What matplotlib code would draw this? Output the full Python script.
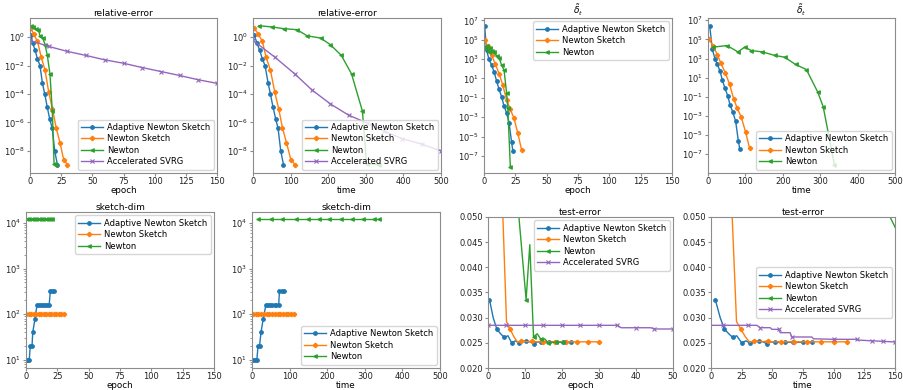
import matplotlib
matplotlib.use('Agg')
import matplotlib.pyplot as plt
from matplotlib.ticker import FixedLocator, NullLocator, LogFormatterMathtext

# ---------------- data ----------------
labels = ["Adaptive Newton Sketch", "Newton Sketch", "Newton", "Accelerated SVRG"]

# relative-error
re_ans_epoch = [0.5, 2.2, 4.1, 6, 8, 9.9, 11.8, 13.9, 15.8, 17.9, 19.8, 22]
re_ans_time = [2.7, 10.7, 17.8, 24.9, 32, 40, 46.3, 53.4, 60.5, 66.7, 73.8, 81]
re_ans_val = [1.45, 3.8e-1, 1.15e-1, 2.95e-2, 1.0e-2, 6.3e-4, 1.0e-4, 1.15e-5, 1.74e-6, 3.8e-7, 1.0e-8, 1.1e-9]

re_ns_epoch = [0.5, 3, 6, 9, 12, 15, 18, 21, 24, 27, 30]
re_ns_time = [2.7, 14.2, 24.9, 34.7, 46.3, 57.8, 68.5, 78.3, 89, 100.5, 111.2]
re_ns_val = [4.4, 1.6, 0.49, 3.9e-2, 4.9e-3, 1.4e-4, 8.7e-6, 4.2e-7, 3.9e-8, 2.5e-9, 1.1e-9]

re_n_epoch = [0.5, 2.7, 4.8, 6.7, 8, 10.2, 12.1, 13.9, 16, 17.9, 19.3, 20.9]
re_n_time = [16, 51.6, 82, 117, 144, 180, 206, 235, 262, 291, 302, 335]
re_n_val = [6.3, 5.1, 3.9, 3.3, 1.23, 0.85, 0.29, 5.1e-2, 2.6e-3, 6.3e-6, 1.25e-9, 1.1e-9]

re_svrg_epoch = [0, 15, 30, 45, 60, 75, 90, 105, 120, 135, 150]
re_svrg_epoch_val = [0.58, 0.22, 0.098, 0.051, 0.025, 0.0145, 0.0072, 0.0038, 0.002, 0.001, 0.00056]
re_svrg_time = [0, 58, 111, 157, 206, 254, 302, 349, 396, 449, 500]
re_svrg_time_val = [0.58, 0.039, 2.6e-3, 1.9e-4, 2.0e-5, 3.3e-6, 9.5e-7, 2.5e-7, 7.4e-8, 3.0e-8, 1.0e-8]

# delta tilde
dl_ans_epoch = [0.5, 2, 4, 6, 8, 10, 12, 14, 16, 18, 20, 22, 23]
dl_ans_time = [4.5, 11.6, 18.8, 25, 32, 38.4, 45.5, 52.7, 59, 66, 74, 81, 85]
dl_ans_val = [2.75e6, 8.9e3, 9.3e2, 2.5e2, 50, 5.8, 0.76, 0.13, 1.4e-2, 2.8e-3, 2.7e-4, 2.7e-6, 3.5e-7]

dl_ns_epoch = [0.5, 3, 6, 9, 12, 15, 18, 21, 24, 27, 30]
dl_ns_time = [2.7, 14.2, 24.9, 34.7, 46.3, 57.8, 68.5, 78.3, 89, 100.5, 111.2]
dl_ns_val = [1.0e5, 2.0e4, 2.5e3, 3.2e2, 32, 2.0, 6.3e-2, 6.3e-3, 7.4e-4, 2.1e-5, 4.3e-7]

dl_n_epoch = [0.5, 2, 4, 5, 6, 8, 10, 12, 14, 16, 18, 19, 21]
dl_n_time = [13, 51, 80, 98, 116, 145, 179, 205, 234, 263, 293, 308, 338]
dl_n_val = [1.55e4, 2.3e4, 5.0e3, 1.55e4, 6.9e3, 5.0e3, 2.1e3, 1.4e3, 2.4e2, 72, 0.34, 9.3e-3, 7.9e-9]

# sketch-dim
sd_ans_epoch = [0.8, 1.7, 2.6, 3.4, 4.8, 5.4, 7.2, 8.8, 10.4, 12, 13.6, 15.2, 16.8, 18.5, 19.4, 21, 22.5]
sd_ans_time = [3, 8, 13, 16, 20, 24, 30, 37, 43, 48, 54, 60, 65, 71, 73, 79, 85]
sd_ans_val = [10, 10, 10, 20, 20, 40, 80, 160, 160, 160, 160, 160, 160, 160, 320, 320, 320]

sd_ns_epoch = [0, 2, 4, 6, 8, 10, 12, 14, 16, 18, 20, 22, 24, 26, 28, 30]
sd_ns_time = [3, 10, 17, 25, 32, 39, 46, 54, 61, 68, 75, 83, 90, 97, 104, 112]
sd_ns_val = [100] * 16

sd_n_epoch = [0.5, 2.7, 4.8, 6.7, 8, 10.2, 12.1, 13.9, 16, 17.9, 19.3, 20.9]
sd_n_time = [15, 51, 80, 117, 148, 178, 206, 236, 266, 296, 325, 338]
sd_n_val = [12500] * 12

# test-error
te_ans_epoch = [0.4, 1.4, 2.4, 3.4, 4.4, 5.4, 6.4, 7.4, 8.4, 9.4, 10.4, 11.4, 12.4, 13.4,
                14.4, 15.4, 16.4, 17.4, 18.4, 19.4, 20.4, 21.4, 22.4]
te_ans_time = [3.5, 7.5, 11, 14.5, 17.6, 21, 25, 28.5, 32, 35.5, 39.3, 42.5, 45.6, 49,
               52.3, 56, 60.5, 64, 67, 71, 75.4, 79, 82.2]
te_ans_val = [0.0336, 0.0300, 0.0277, 0.0268, 0.0261, 0.0264, 0.0250, 0.0254, 0.0249, 0.0253,
              0.0253, 0.0252, 0.0248, 0.0252, 0.0251, 0.0251, 0.0251, 0.0251, 0.0251, 0.0251,
              0.0251, 0.0251, 0.0251]

te_ns_epoch = [0, 1, 2, 3, 4, 5, 6, 7, 8, 9, 10, 11, 12, 13, 14, 15, 16, 17, 18, 19, 20,
               21, 22, 23, 24, 25, 26, 27, 28, 29, 30]
te_ns_time = [2.7, 6.3, 9.9, 13.5, 17.2, 20.8, 24.4, 28.0, 31.6, 35.2, 38.9, 42.5, 46.1, 49.7,
              53.3, 56.9, 60.6, 64.2, 67.8, 71.4, 75.0, 78.6, 82.3, 85.9, 89.5, 93.1, 96.7,
              100.3, 104.0, 107.6, 111.2]
te_ns_val = [0.5, 0.3, 0.16, 0.085, 0.0505, 0.0292, 0.0277, 0.0262, 0.0251, 0.0254, 0.0253,
             0.0252, 0.0254, 0.0252, 0.0252, 0.0252, 0.0252, 0.0252, 0.0252, 0.0252, 0.0252,
             0.0252, 0.0252, 0.0252, 0.0252, 0.0252, 0.0252, 0.0252, 0.0252, 0.0252, 0.0252]

te_n_epoch = [0.3, 1.3, 2.3, 3.3, 4.3, 5.3, 6.3, 7.3, 8.3, 9.3, 10.3, 11.3, 12.3, 13.3,
              14.3, 15.3, 16.3, 17.3, 18.3, 19.3, 20.3]
te_n_time = [14, 32, 51, 66, 81, 99, 117, 131, 145, 162, 180, 193, 206, 220, 235, 249, 263,
             277, 292, 306, 320]
te_n_val = [0.5, 0.45, 0.3, 0.2, 0.15, 0.1, 0.08, 0.065, 0.0505, 0.042, 0.0336, 0.0445,
            0.0262, 0.0268, 0.0257, 0.0258, 0.0250, 0.0251, 0.0251, 0.0251, 0.0251]

te_svrg_epoch = [0, 5, 10, 15, 20, 25, 30, 35, 36, 40, 44, 45, 50]
te_svrg_epoch_val = [0.02848, 0.02848, 0.02848, 0.02848, 0.02848, 0.02848, 0.02848, 0.02848,
                     0.0280, 0.0280, 0.0280, 0.02775, 0.02775]
te_svrg_time = [0, 10, 20, 30, 37.4, 40.1, 48.3, 49.6, 55.6, 56.4, 64.5, 65.9, 82.2, 83.5,
                100, 118.8, 120, 131, 140, 150]
te_svrg_time_val = [0.02848, 0.02848, 0.02848, 0.02848, 0.02848, 0.02801, 0.02801, 0.02768,
                    0.02768, 0.02702, 0.02702, 0.02616, 0.02616, 0.0258, 0.0257, 0.0257,
                    0.02555, 0.0254, 0.0253, 0.02517]

# ---------------- style ----------------
FS_TICK = 6.0
FS_LAB = 6.3
FS_TITLE = 6.5
plt.rcParams.update({
    'font.family': ['DejaVu Sans'],
    'font.size': FS_TICK,
    'axes.edgecolor': '#8c8c8c',
    'axes.linewidth': 0.8,
    'xtick.color': '#8c8c8c',
    'ytick.color': '#8c8c8c',
    'xtick.labelcolor': '#222222',
    'ytick.labelcolor': '#222222',
    'xtick.labelsize': FS_TICK,
    'ytick.labelsize': FS_TICK,
    'xtick.major.size': 2.0,
    'ytick.major.size': 2.0,
    'ytick.minor.size': 1.2,
    'xtick.major.pad': 1.0,
    'ytick.major.pad': 1.5,
    'axes.titlepad': 1.5,
    'axes.labelpad': 0.0,
})

C = ['#1f77b4', '#ff7f0e', '#2ca02c', '#9467bd']
M = ['o', 'P', '<', 'x']
MS = [2.6, 3.0, 2.6, 3.0]

W, H = 904, 390
fig = plt.figure(figsize=(W / 100, H / 100), dpi=100)


def add_ax(x0, x1, y0, y1):
    return fig.add_axes([x0 / W, 1 - y1 / H, (x1 - x0) / W, (y1 - y0) / H])


def draw(ax, i, x, y, markevery=None):
    ax.plot(x, y, color=C[i], marker=M[i], ms=MS[i], lw=1.0, mew=0.8,
            label=labels[i], markevery=markevery)


def finish(ax, title, xlabel, xlim, xticks, legloc, bbox=None):
    ax.set_title(title, fontsize=FS_TITLE)
    ax.set_xlabel(xlabel, fontsize=FS_LAB)
    ax.set_xlim(*xlim)
    ax.set_xticks(xticks)
    kw = dict(loc=legloc, fontsize=FS_TICK, labelspacing=0.3, handlelength=2.6,
              handletextpad=0.5, borderpad=0.4, borderaxespad=0.4, framealpha=0.8)
    if bbox is not None:
        kw['bbox_to_anchor'] = bbox
    ax.legend(**kw)


def logticks(ax, exps, ylim_exp, minor=False):
    ax.set_yscale('log')
    ax.set_ylim(10 ** ylim_exp[0], 10 ** ylim_exp[1])
    ax.yaxis.set_major_locator(FixedLocator([10.0 ** e for e in exps]))
    ax.yaxis.set_major_formatter(LogFormatterMathtext())
    if not minor:
        ax.yaxis.set_minor_locator(NullLocator())


# Panel 1: relative-error vs epoch
ax = add_ax(30, 217, 18, 173)
draw(ax, 0, re_ans_epoch, re_ans_val)
draw(ax, 1, re_ns_epoch, re_ns_val)
draw(ax, 2, re_n_epoch, re_n_val)
draw(ax, 3, re_svrg_epoch, re_svrg_epoch_val)
logticks(ax, [0, -2, -4, -6, -8], (-9.55, 1.34))
finish(ax, 'relative-error', 'epoch', (0, 150), [0, 25, 50, 75, 100, 125, 150], 'lower right')

# Panel 2: relative-error vs time
ax = add_ax(253, 441, 18, 173)
draw(ax, 0, re_ans_time, re_ans_val)
draw(ax, 1, re_ns_time, re_ns_val)
draw(ax, 2, re_n_time, re_n_val)
draw(ax, 3, re_svrg_time, re_svrg_time_val)
logticks(ax, [0, -2, -4, -6, -8], (-9.55, 1.34))
finish(ax, 'relative-error', 'time', (0, 500), [0, 100, 200, 300, 400, 500], 'lower right')

# Panel 3: delta vs epoch
ax = add_ax(484, 672, 18, 173)
draw(ax, 0, dl_ans_epoch, dl_ans_val)
draw(ax, 1, dl_ns_epoch, dl_ns_val)
draw(ax, 2, dl_n_epoch, dl_n_val)
logticks(ax, [7, 5, 3, 1, -1, -3, -5, -7], (-8.76, 7.24))
finish(ax, r'$\tilde{\delta}_t$', 'epoch', (0, 150), [0, 25, 50, 75, 100, 125, 150], 'upper right')

# Panel 4: delta vs time
ax = add_ax(708, 895, 18, 173)
draw(ax, 0, dl_ans_time, dl_ans_val)
draw(ax, 1, dl_ns_time, dl_ns_val)
draw(ax, 2, dl_n_time, dl_n_val)
logticks(ax, [7, 5, 3, 1, -1, -3, -5, -7], (-8.96, 7.24))
finish(ax, r'$\tilde{\delta}_t$', 'time', (0, 500), [0, 100, 200, 300, 400, 500], 'lower right')

# Panel 5: sketch-dim vs epoch
ax = add_ax(26, 214, 212, 368)
draw(ax, 0, sd_ans_epoch, sd_ans_val)
draw(ax, 1, sd_ns_epoch, sd_ns_val)
draw(ax, 2, sd_n_epoch, sd_n_val)
logticks(ax, [1, 2, 3, 4], (0.816, 4.243), minor=True)
finish(ax, 'sketch-dim', 'epoch', (0, 150), [0, 25, 50, 75, 100, 125, 150], 'upper right')

# Panel 6: sketch-dim vs time
ax = add_ax(252, 440, 212, 368)
draw(ax, 0, sd_ans_time, sd_ans_val)
draw(ax, 1, sd_ns_time, sd_ns_val)
draw(ax, 2, sd_n_time, sd_n_val)
logticks(ax, [1, 2, 3, 4], (0.816, 4.243), minor=True)
finish(ax, 'sketch-dim', 'time', (0, 500), [0, 100, 200, 300, 400, 500], 'lower right')

# Panel 7: test-error vs epoch
ax = add_ax(488, 673, 217, 368)
draw(ax, 0, te_ans_epoch, te_ans_val, markevery=2)
draw(ax, 1, te_ns_epoch, te_ns_val, markevery=3)
draw(ax, 2, te_n_epoch, te_n_val, markevery=2)
draw(ax, 3, te_svrg_epoch, te_svrg_epoch_val, markevery=[0, 1, 2, 3, 4, 5, 6, 7, 9, 11, 12])
ax.set_ylim(0.020, 0.050)
ax.set_yticks([0.020, 0.025, 0.030, 0.035, 0.040, 0.045, 0.050])
ax.set_yticklabels(['0.020', '0.025', '0.030', '0.035', '0.040', '0.045', '0.050'])
finish(ax, 'test-error', 'epoch', (0, 50), [0, 10, 20, 30, 40, 50], 'upper right')

# Panel 8: test-error vs time
ax = add_ax(711, 895, 217, 368)
draw(ax, 0, te_ans_time, te_ans_val, markevery=2)
draw(ax, 1, te_ns_time, te_ns_val, markevery=3)
draw(ax, 2, te_n_time, te_n_val, markevery=2)
draw(ax, 3, te_svrg_time, te_svrg_time_val, markevery=[1, 3, 5, 8, 11, 14, 15, 17, 18, 19])
ax.set_ylim(0.020, 0.050)
ax.set_yticks([0.020, 0.025, 0.030, 0.035, 0.040, 0.045, 0.050])
ax.set_yticklabels(['0.020', '0.025', '0.030', '0.035', '0.040', '0.045', '0.050'])
finish(ax, 'test-error', 'time', (0, 150), [0, 25, 50, 75, 100, 125, 150], 'center right')

fig.savefig('out.png', dpi=100)
